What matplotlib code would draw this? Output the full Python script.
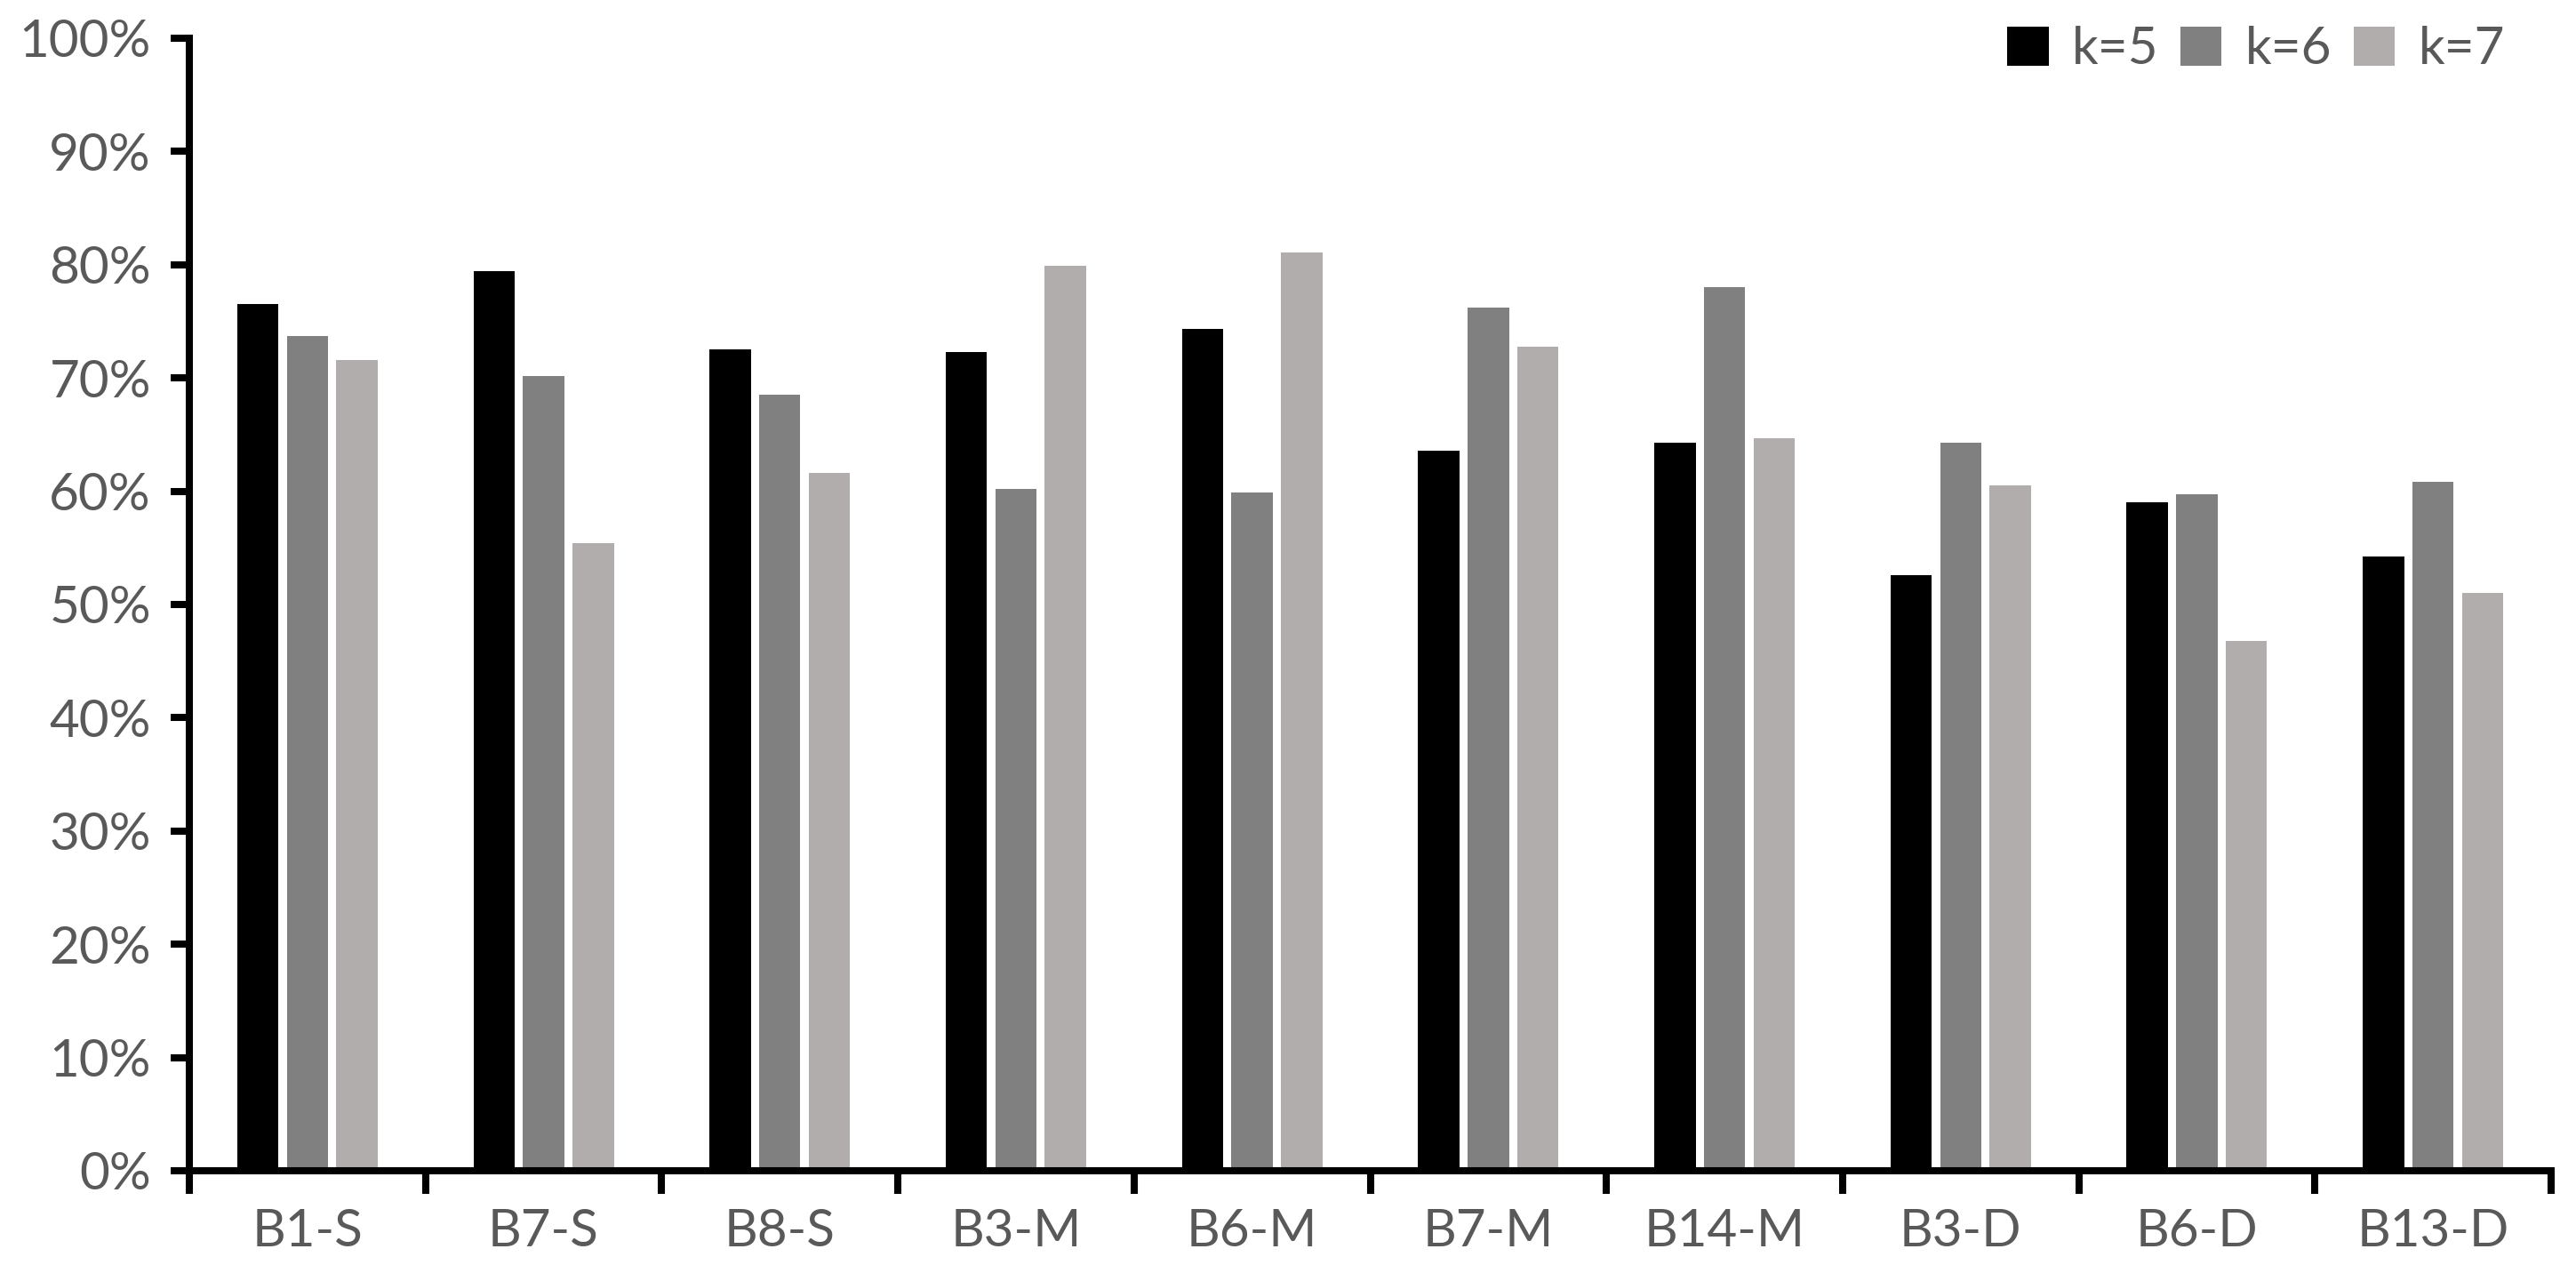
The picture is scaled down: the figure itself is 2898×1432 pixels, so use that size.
import matplotlib
matplotlib.use("Agg")
import matplotlib.pyplot as plt
import numpy as np

categories = ["B1-S", "B7-S", "B8-S", "B3-M", "B6-M", "B7-M", "B14-M", "B3-D", "B6-D", "B13-D"]
k5 = [76.5, 79.4, 72.5, 72.3, 74.3, 63.6, 64.3, 52.6, 59.0, 54.2]
k6 = [73.7, 70.2, 68.5, 60.2, 59.9, 76.2, 78.0, 64.3, 59.7, 60.8]
k7 = [71.6, 55.4, 61.6, 79.9, 81.1, 72.8, 64.7, 60.5, 46.8, 51.0]
series_labels = ["k=5", "k=6", "k=7"]
yticks = [0, 10, 20, 30, 40, 50, 60, 70, 80, 90, 100]
ytick_labels = [f"{v}%" for v in yticks]

colors = ["#000000", "#808080", "#B0ADAC"]
text_color = "#595959"

plt.rcParams['font.family'] = ['Lato', 'DejaVu Sans']

DPI = 200
fig = plt.figure(figsize=(2898 / DPI, 1432 / DPI), dpi=DPI)
ax = fig.add_axes([213 / 2898, 1 - 1317 / 1432, (2870 - 213) / 2898, (1317 - 43) / 1432])

x = np.arange(len(categories)) + 0.5
width = 0.175
step = 0.21
for i, (vals, c, lab) in enumerate(zip([k5, k6, k7], colors, series_labels)):
    ax.bar(x + (i - 1) * step, vals, width=width, color=c, label=lab, zorder=2)

ax.set_xlim(0, len(categories))
ax.set_ylim(0, 100)

ax.set_yticks(yticks)
ax.set_yticklabels(ytick_labels)
ax.set_xticks(np.arange(len(categories) + 1))
ax.set_xticklabels([""] * (len(categories) + 1))
ax.set_xticks(x, minor=True)
ax.set_xticklabels(categories, minor=True)

for s in ["top", "right"]:
    ax.spines[s].set_visible(False)
for s in ["left", "bottom"]:
    ax.spines[s].set_linewidth(2.9)
    ax.spines[s].set_color("black")

fs = 21
ax.tick_params(axis="y", which="major", direction="out", length=7.5, width=2.9,
               color="black", labelsize=fs, labelcolor=text_color, pad=8)
ax.tick_params(axis="x", which="major", direction="out", length=9.4, width=2.9,
               color="black")
ax.tick_params(axis="x", which="minor", length=0, labelsize=fs,
               labelcolor=text_color, pad=15)

leg = ax.legend(loc="center right", bbox_to_anchor=(2818 / 2898, 1 - 56 / 1432),
                bbox_transform=fig.transFigure, ncol=3, frameon=False,
                fontsize=fs, handlelength=0.79, handleheight=0.78,
                handletextpad=0.45, columnspacing=0.43, borderpad=0,
                borderaxespad=0)
for t in leg.get_texts():
    t.set_color(text_color)

fig.savefig("out.png", dpi=DPI)
